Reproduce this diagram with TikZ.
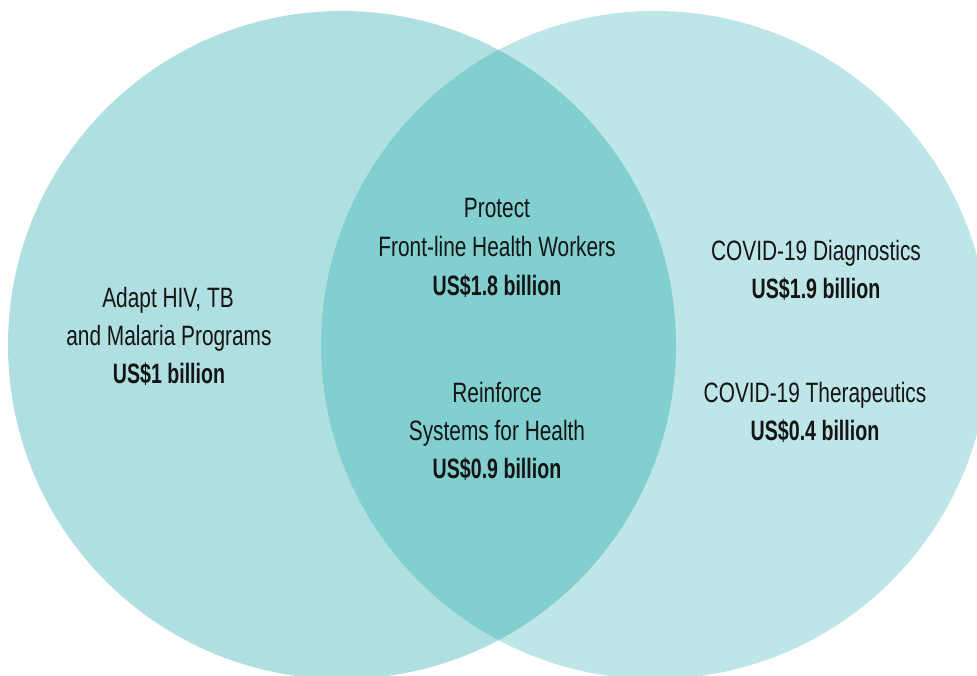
\documentclass[tikz,border=0pt]{standalone}
\usepackage{fontspec}
\setmainfont{Liberation Sans}[FakeStretch=0.745,BoldFeatures={FakeStretch=0.70}]
\begin{document}
\begin{tikzpicture}[x=1pt,y=-1pt,
  lbl/.style={anchor=base,inner sep=0pt,text=black!92,font=\fontsize{28}{32}\selectfont},
  amt/.style={lbl,font=\fontsize{28}{32}\selectfont\bfseries}]
\definecolor{leftc}{HTML}{B0DFE1}
\definecolor{rightc}{HTML}{BEE5E7}
\definecolor{midc}{HTML}{82CFD0}
\useasboundingbox (0,0) rectangle (977,675);
\begin{scope}
\clip (0,0) rectangle (977,675);
\fill[leftc] (342,345) circle[radius=334];
\fill[rightc] (655,345) circle[radius=334];
\begin{scope}
\clip (342,345) circle[radius=334];
\fill[midc] (655,345) circle[radius=334];
\end{scope}
\end{scope}
\node[lbl] (l1) at (168,307) {Adapt HIV, TB};
\node[lbl] (l2) at (169,345) {and Malaria Programs};
\node[amt] (l3) at (169,383) {US\$1 billion};
\node[lbl] (m1) at (497,217) {Protect};
\node[lbl] (m2) at (497,256) {Front-line Health Workers};
\node[amt] (m3) at (497,295) {US\$1.8 billion};
\node[lbl] (m4) at (497,402) {Reinforce};
\node[lbl] (m5) at (497,440) {Systems for Health};
\node[amt] (m6) at (497,478) {US\$0.9 billion};
\node[lbl] (r1) at (816,260) {COVID-19 Diagnostics};
\node[amt] (r2) at (816,298) {US\$1.9 billion};
\node[lbl] (r3) at (815,402) {COVID-19 Therapeutics};
\node[amt] (r4) at (815,440) {US\$0.4 billion};
\end{tikzpicture}
\end{document}
